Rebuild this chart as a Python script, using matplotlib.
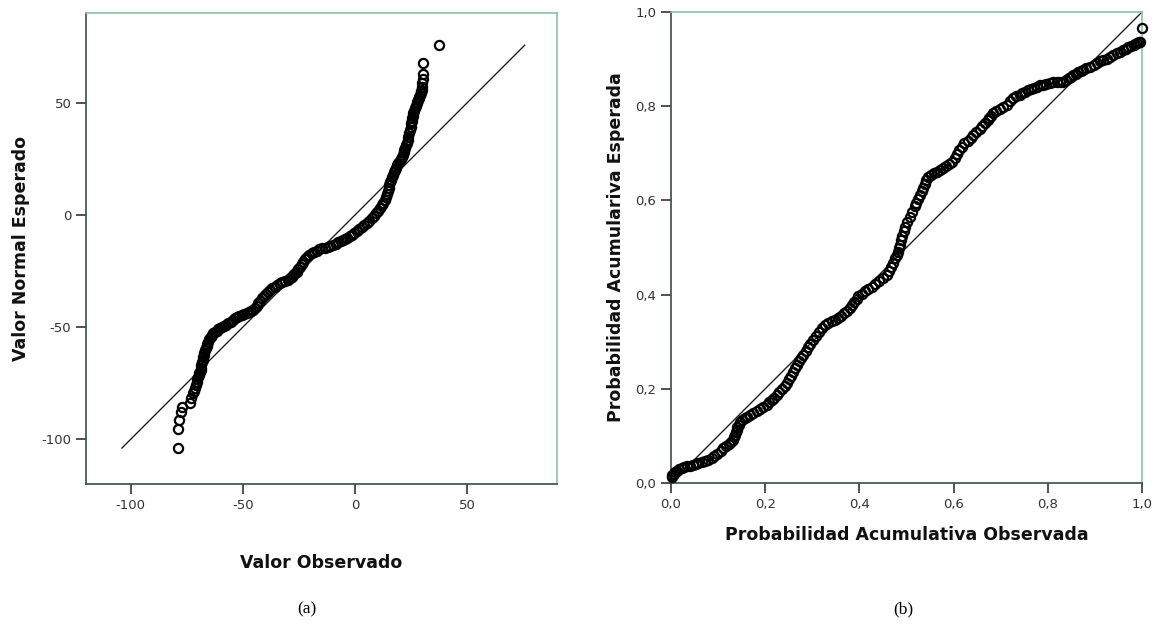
import matplotlib
matplotlib.use("Agg")
import matplotlib.pyplot as plt
from matplotlib.ticker import FuncFormatter

plt.rcParams['axes.unicode_minus'] = False

# (a) Q-Q normal: valor observado vs valor normal esperado
qq_obs = [-79.1, -78.8, -78.5, -77.8, -77.4, -73.6, -73.2, -72.4, -71.9, -71.4,
          -71.0, -70.7, -70.3,
          -69.9, -69.6, -69.4, -69.1, -68.9, -68.7, -68.5, -68.2, -68.0, -67.7,
          -67.5, -67.2, -66.9, -66.6, -66.2, -65.9, -65.5, -65.0, -64.4, -63.8,
          -63.2, -62.5, -61.7, -61.0, -60.2, -59.3, -58.4, -57.5, -56.5, -55.5,
          -54.6, -53.7, -52.8, -51.7, -50.6, -49.4, -48.3, -47.3, -46.4, -45.5,
          -44.6, -43.9, -43.2, -42.5, -41.7, -40.8, -39.8, -38.9, -38.0, -36.9,
          -35.8, -34.7, -33.5, -32.4, -31.2, -30.1, -29.0, -28.2, -27.5, -26.8,
          -26.1, -25.3, -24.6, -23.8, -23.1, -22.2, -21.3, -20.4, -19.4, -18.3,
          -17.2, -16.0, -14.9, -13.6, -12.3, -11.0, -9.7, -8.6, -7.5, -6.4,
          -5.3, -4.3, -3.4, -2.4, -1.5, -0.4, 0.8, 1.9, 3.0, 4.1,
          5.2, 6.3, 7.4, 8.4, 9.3, 10.2, 11.1, 11.8, 12.5, 13.2,
          13.8, 14.2, 14.5, 14.9, 15.2, 15.7, 16.1, 16.6, 17.0, 17.5,
          17.9, 18.4, 18.8, 19.3, 19.8, 20.3, 20.8, 21.2, 21.6, 22.0,
          22.3, 22.7, 23.0, 23.4, 23.8, 24.1, 24.4, 24.7, 25.0, 25.3,
          25.5, 25.8, 26.0, 26.4, 26.7, 27.1, 27.5, 27.8, 28.1, 28.4,
          28.6,
          29.0, 29.2, 29.5, 29.7, 29.9, 30.0, 30.1, 30.1, 30.1, 37.5]
qq_esp = [-103.8, -95.6, -91.5, -87.8, -85.5, -83.8, -81.8, -79.6, -78.4, -77.3,
          -75.8, -74.4, -73.2,
          -72.2, -71.4, -70.6, -69.9, -69.2, -68.1, -67.0, -65.8, -64.7, -63.6,
          -62.5, -61.4, -60.3, -59.3, -58.4, -57.4, -56.6, -55.5, -54.6, -53.6,
          -52.8, -52.2, -51.7, -51.1, -50.6, -50.0, -49.5, -49.0, -48.4, -47.6,
          -46.9, -46.1, -45.4, -45.0, -44.6, -44.3, -43.9, -43.4, -42.8, -42.3,
          -41.7, -40.6, -39.5, -38.3, -37.2, -36.2, -35.3, -34.4, -33.5, -32.7,
          -32.0, -31.2, -30.5, -29.9, -29.4, -28.9, -28.3, -27.6, -26.8, -26.1,
          -25.4, -24.2, -23.1, -22.0, -20.9, -19.9, -19.0, -18.1, -17.2, -16.5,
          -16.0, -15.4, -14.9, -14.6, -14.2, -13.8, -13.4, -12.8, -12.3, -11.7,
          -11.2, -10.7, -10.2, -9.6, -9.0, -8.1, -7.2, -6.2, -5.3, -4.4,
          -3.5, -2.6, -1.6, -0.5, 0.6, 1.7, 2.9, 4.2, 5.5, 6.8,
          8.1, 9.4, 10.7, 12.0, 13.4, 14.5, 15.6, 16.7, 17.8, 18.9,
          20.0, 21.1, 22.2, 23.1, 24.0, 25.0, 25.9, 26.8, 27.8, 28.7,
          29.7, 31.0, 32.2, 33.5, 34.8, 36.3, 37.8, 39.3, 40.8, 41.9,
          43.0, 44.1, 45.3, 46.4, 47.5, 48.6, 49.7, 50.5, 51.2, 52.0,
          52.7,
          53.5, 54.2, 55.0, 55.7, 57.2, 58.7, 60.5, 62.8, 67.6, 75.7]
qq_linea = [-104, 75.6]
qq_ticks = [-100, -50, 0, 50]

# (b) P-P: probabilidad acumulativa observada vs esperada
pp_obs = [0.001, 0.003, 0.006, 0.009, 0.012, 0.017, 0.023, 0.028, 0.034, 0.040,
          0.046, 0.052, 0.058, 0.065, 0.072, 0.079, 0.086, 0.092, 0.098, 0.105,
          0.111, 0.117, 0.122, 0.127, 0.132, 0.134, 0.136, 0.138, 0.139, 0.141,
          0.144, 0.147, 0.150, 0.156, 0.162, 0.168, 0.175, 0.182, 0.189, 0.196,
          0.203, 0.209, 0.214, 0.219, 0.224, 0.230, 0.235, 0.241, 0.246, 0.250,
          0.254, 0.258, 0.263, 0.267, 0.272, 0.276, 0.281, 0.286, 0.291, 0.296,
          0.302, 0.308, 0.314, 0.320, 0.327, 0.334, 0.341, 0.348, 0.355, 0.361,
          0.368, 0.374, 0.380, 0.385, 0.389, 0.394, 0.398, 0.405, 0.412, 0.419,
          0.426, 0.434, 0.442, 0.450, 0.458, 0.463, 0.467, 0.472, 0.476, 0.479,
          0.481, 0.484, 0.486, 0.489, 0.491, 0.494, 0.497, 0.502, 0.507, 0.512,
          0.518, 0.521, 0.525, 0.528, 0.532, 0.535, 0.539, 0.542, 0.546, 0.552,
          0.558, 0.564, 0.571, 0.577, 0.584, 0.590, 0.596, 0.602, 0.607, 0.612,
          0.617, 0.623, 0.630, 0.636, 0.642, 0.648, 0.655, 0.661, 0.667, 0.672,
          0.676, 0.680, 0.684, 0.691, 0.698, 0.705, 0.713, 0.720, 0.727, 0.733,
          0.740, 0.746, 0.752, 0.758, 0.764, 0.770, 0.776, 0.783, 0.790, 0.797,
          0.805, 0.812, 0.819, 0.826, 0.833, 0.839, 0.844, 0.849, 0.854, 0.860,
          0.865, 0.870, 0.875, 0.882, 0.890, 0.897, 0.904, 0.911, 0.918, 0.925,
          0.932, 0.939, 0.946, 0.953, 0.960, 0.966, 0.971, 0.977, 0.982, 0.986,
          0.990, 0.993, 0.996, 0.999]
pp_esp = [0.013, 0.017, 0.020, 0.023, 0.026, 0.029, 0.031, 0.033, 0.035, 0.037,
          0.039, 0.041, 0.042, 0.044, 0.046, 0.049, 0.052, 0.057, 0.062, 0.068,
          0.074, 0.079, 0.083, 0.087, 0.091, 0.097, 0.102, 0.108, 0.113, 0.119,
          0.124, 0.129, 0.134, 0.138, 0.141, 0.145, 0.148, 0.153, 0.157, 0.161,
          0.166, 0.171, 0.176, 0.181, 0.187, 0.193, 0.199, 0.205, 0.212, 0.220,
          0.228, 0.236, 0.244, 0.251, 0.258, 0.265, 0.272, 0.280, 0.288, 0.296,
          0.304, 0.312, 0.320, 0.328, 0.335, 0.340, 0.344, 0.347, 0.350, 0.355,
          0.360, 0.365, 0.371, 0.378, 0.384, 0.390, 0.396, 0.402, 0.407, 0.412,
          0.417, 0.423, 0.429, 0.435, 0.442, 0.450, 0.459, 0.468, 0.477, 0.484,
          0.491, 0.498, 0.505, 0.515, 0.525, 0.535, 0.544, 0.555, 0.565, 0.576,
          0.587, 0.595, 0.603, 0.611, 0.619, 0.627, 0.635, 0.643, 0.650, 0.654,
          0.658, 0.661, 0.665, 0.669, 0.673, 0.677, 0.682, 0.690, 0.698, 0.706,
          0.714, 0.721, 0.727, 0.733, 0.739, 0.745, 0.752, 0.758, 0.764, 0.770,
          0.775, 0.780, 0.785, 0.790, 0.794, 0.798, 0.803, 0.810, 0.817, 0.821,
          0.824, 0.828, 0.831, 0.834, 0.836, 0.839, 0.841, 0.844, 0.846, 0.848,
          0.850, 0.851, 0.851, 0.852, 0.852, 0.855, 0.859, 0.863, 0.866, 0.869,
          0.872, 0.875, 0.877, 0.880, 0.884, 0.887, 0.891, 0.895, 0.898, 0.901,
          0.905, 0.909, 0.912, 0.915, 0.919, 0.922, 0.925, 0.928, 0.930, 0.932,
          0.934, 0.936, 0.937, 0.965]
pp_linea = [0.0, 1.0]
pp_ticks = [0.0, 0.2, 0.4, 0.6, 0.8, 1.0]

EJE = '#3b4a44'
MARCO = '#8fbfa6'
TXT = '#333333'


def estilo_ejes(ax):
    ax.spines['left'].set_color(EJE)
    ax.spines['bottom'].set_color(EJE)
    ax.spines['top'].set_color(MARCO)
    ax.spines['right'].set_color(MARCO)
    for s in ax.spines.values():
        s.set_linewidth(1.2)
    ax.tick_params(direction='out', length=7.5, width=1.2, color=TXT,
                   labelsize=9.5, labelcolor=TXT, pad=3)


fig = plt.figure(figsize=(11.62, 6.27), dpi=100)

# Grafico (a)
ax1 = fig.add_axes([0.0740, 0.2281, 0.4053, 0.7512])
ax1.plot(qq_linea, qq_linea, color='#222222', lw=1.0, zorder=2)
ax1.plot(qq_obs, qq_esp, 'o', ms=6.6, mfc='none', mec='black', mew=1.6, zorder=3)
ax1.set_xlim(-120, 90)
ax1.set_ylim(-120, 90)
ax1.set_xticks(qq_ticks)
ax1.set_yticks(qq_ticks)
estilo_ejes(ax1)
ax1.set_xlabel('Valor Observado', fontsize=12.5, fontweight='bold', color='#111111')
ax1.set_ylabel('Valor Normal Esperado', fontsize=12.5, fontweight='bold', color='#111111')
ax1.xaxis.set_label_coords(0.5, -0.148)
ax1.yaxis.set_label_coords(-0.118, 0.5)

# Grafico (b)
ax2 = fig.add_axes([0.5775, 0.2297, 0.4053, 0.7512])
ax2.plot(pp_linea, pp_linea, color='#222222', lw=1.0, zorder=2)
ax2.plot(pp_obs, pp_esp, 'o', ms=6.6, mfc='none', mec='black', mew=1.6, zorder=3,
         clip_on=False)
ax2.set_xlim(0, 1)
ax2.set_ylim(0, 1)
ax2.set_xticks(pp_ticks)
ax2.set_yticks(pp_ticks)
coma = FuncFormatter(lambda v, p: f'{v:.1f}'.replace('.', ','))
ax2.xaxis.set_major_formatter(coma)
ax2.yaxis.set_major_formatter(coma)
estilo_ejes(ax2)
ax2.set_xlabel('Probabilidad Acumulativa Observada', fontsize=12.5, fontweight='bold', color='#111111')
ax2.set_ylabel('Probabilidad Acumulariva Esperada', fontsize=12.5, fontweight='bold', color='#111111')
ax2.xaxis.set_label_coords(0.5, -0.092)
ax2.yaxis.set_label_coords(-0.097, 0.5)

fig.text(307 / 1162, 1 - 609 / 627, '(a)', ha='center', va='center',
         family='Liberation Serif', fontsize=12.5)
fig.text(903 / 1162, 1 - 609 / 627, '(b)', ha='center', va='center',
         family='Liberation Serif', fontsize=12.5)

fig.savefig('out.png', dpi=100)
